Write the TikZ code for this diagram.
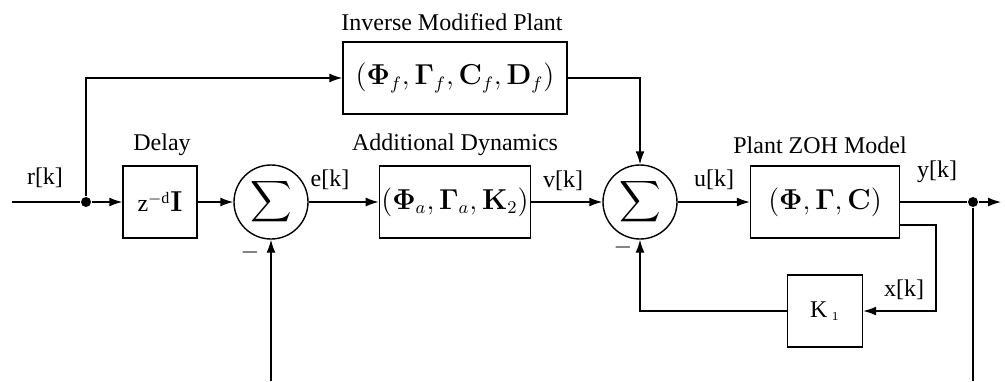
\documentclass[tikz,border=0pt,12pt]{standalone}
\usepackage{amsmath}
\usepackage[no-math]{fontspec}
\setmainfont{Liberation Serif}
\usepackage{tikz}
\usetikzlibrary{positioning, arrows.meta, shapes.geometric}

\begin{document}
\begin{tikzpicture}[x=0.5pt, y=-0.5pt, >={Latex[length=6.5pt,width=4.5pt]}, line width=0.7pt]
    \tikzstyle{block} = [draw, rectangle, minimum height=36pt, inner sep=1pt]
    \tikzstyle{bigmath} = [font=\fontsize{13.5}{16}\selectfont]
    \tikzstyle{summer} = [draw, circle, minimum size=37pt, inner sep=0pt, font=\fontsize{14}{16}\selectfont]
    \tikzstyle{dot} = [fill, circle, inner sep=0pt, minimum size=5pt]
    \tikzstyle{lbl} = [inner sep=1pt]

    \useasboundingbox (0,0) rectangle (1005,381);

    % Linea principale
    \coordinate (in) at (12,202);
    \node[dot] (jr) at (86,202) {};
    \node[block, minimum width=37pt] (delay) at (160,202) {z\textsuperscript{$-$d}{\large$\mathbf{I}$}};
    \node[summer] (sum1) at (271,202) {$\displaystyle\sum$};
    \node[block, bigmath, minimum width=74pt] (addyn) at (455,202) {$(\mathbf{\Phi}_a,\mathbf{\Gamma}_a,\mathbf{K}_2)$};
    \node[summer] (sum2) at (640,202) {$\displaystyle\sum$};
    \node[block, bigmath, minimum width=74.5pt] (plant) at (825,202) {$(\mathbf{\Phi},\mathbf{\Gamma},\mathbf{C})$};
    \node[dot] (jy) at (973,202) {};
    \coordinate (out) at (1001,202);

    % Ramo superiore
    \node[block, bigmath, minimum width=112pt] (inv) at (455,78) {$(\mathbf{\Phi}_f,\mathbf{\Gamma}_f,\mathbf{C}_f,\mathbf{D}_f)$};

    % Ramo di retroazione
    \node[block, minimum width=37.5pt] (k1) at (825,311) {K\,$_{\scriptscriptstyle 1}$};
    \coordinate (xc) at (936,311);
    \coordinate (b1) at (271,381);
    \coordinate (b2) at (973,381);

    % Titoli
    \node[lbl] (tinv) at (452,22) {Inverse Modified Plant};
    \node[lbl] (tdelay) at (162,145) {Delay};
    \node[lbl] (tadd) at (455,145) {Additional Dynamics};
    \node[lbl] (tplant) at (820,145) {Plant ZOH Model};

    % Segnali
    \node[lbl] (lr) at (45,178) {r[k]};
    \node[lbl] (le) at (330,180) {e[k]};
    \node[lbl] (lv) at (563,181) {v[k]};
    \node[lbl] (lu) at (714,180) {u[k]};
    \node[lbl] (ly) at (937,172) {y[k]};
    \node[lbl] (lx) at (904,290) {x[k]};
    \node[lbl] (m1) at (250,252) {$-$};
    \node[lbl] (m2) at (623,247) {$-$};

    % Collegamenti
    \draw (in) -- (jr);
    \draw[->] (jr) -- (delay);
    \draw[->] (delay) -- (sum1);
    \draw[->] (sum1) -- (addyn);
    \draw[->] (addyn) -- (sum2);
    \draw[->] (sum2) -- (plant);
    \draw (plant) -- (jy);
    \draw[->] (jy) -- (out);
    \draw[->] (jr) |- (inv.west);
    \draw[->] (inv.east) -| (sum2.north);
    \draw[->] ([yshift=-11.5pt]plant.east) -| (xc) -- (k1.east);
    \draw[->] (k1.west) -| (sum2.south);
    \draw[->] (b1) -- (sum1.south);
    \draw (jy) -- (b2);
\end{tikzpicture}
\end{document}
